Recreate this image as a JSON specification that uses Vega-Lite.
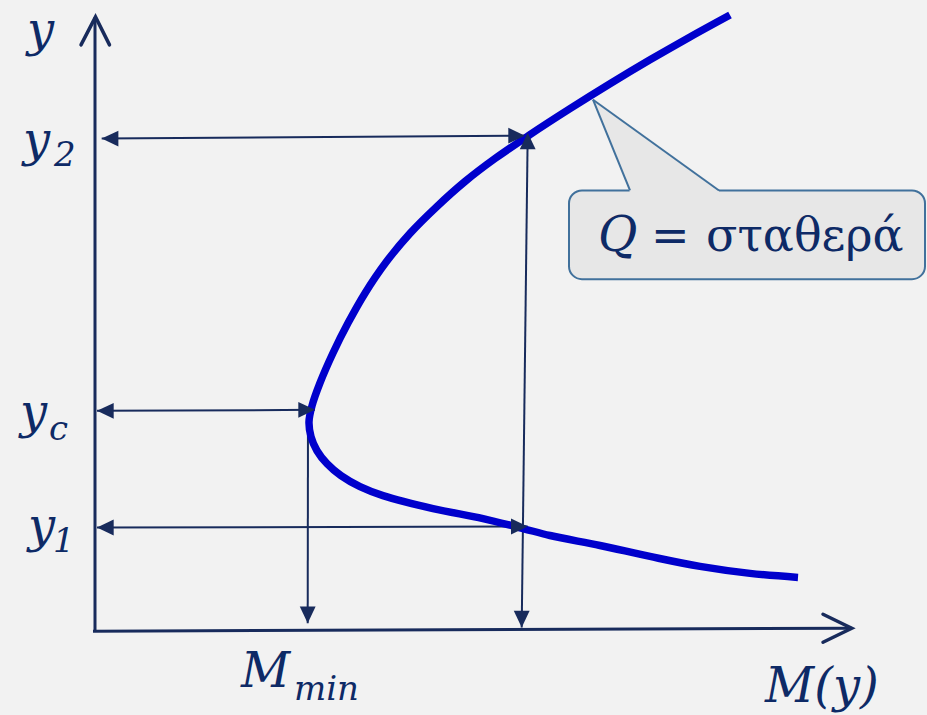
{
  "$schema": "https://vega.github.io/schema/vega-lite/v6.json",
  "width": 927,
  "height": 715,
  "autosize": {"type": "fit", "contains": "padding"},
  "padding": 0,
  "background": "#f2f2f2",
  "config": {"view": {"stroke": null}},
  "datasets": {
    "axes": [
      {"x": 0, "y": 0, "x2": 0, "y2": 61.6},
      {"x": -0.2, "y": 0, "x2": 75.67, "y2": 0.3}
    ],
    "chevrons": [
      {"g": "y", "i": 0, "x": -1.4, "y": 58.8},
      {"g": "y", "i": 1, "x": 0.05, "y": 61.6},
      {"g": "y", "i": 2, "x": 1.45, "y": 58.8},
      {"g": "M", "i": 0, "x": 72.8, "y": 1.7},
      {"g": "M", "i": 1, "x": 75.67, "y": 0.3},
      {"g": "M", "i": 2, "x": 72.8, "y": -1.1}
    ],
    "shafts": [
      {"x": 0.67, "y": 49.4, "x2": 43.0, "y2": 49.7},
      {"x": 0.2, "y": 22.1, "x2": 22.0, "y2": 22.2},
      {"x": 0.2, "y": 10.4, "x2": 43.27, "y2": 10.5},
      {"x": 21.3, "y": 22.1, "x2": 21.27, "y2": 0.8},
      {"x": 43.27, "y": 50.0, "x2": 42.67, "y2": 0.37}
    ],
    "heads": [
      {"x": 0.67, "y": 49.4, "dir": "left"},
      {"x": 43.0, "y": 49.7, "dir": "right"},
      {"x": 0.2, "y": 22.1, "dir": "left"},
      {"x": 22.0, "y": 22.2, "dir": "right"},
      {"x": 0.2, "y": 10.4, "dir": "left"},
      {"x": 43.27, "y": 10.5, "dir": "right"},
      {"x": 21.27, "y": 0.8, "dir": "down"},
      {"x": 43.27, "y": 50.0, "dir": "up"},
      {"x": 42.67, "y": 0.37, "dir": "down"}
    ],
    "curve": [
      {"i": 0, "x": 63.5, "y": 61.8},
      {"i": 1, "x": 59.5, "y": 59.6},
      {"i": 2, "x": 55.5, "y": 57.3},
      {"i": 3, "x": 51.5, "y": 54.9},
      {"i": 4, "x": 47.5, "y": 52.4},
      {"i": 5, "x": 43.5, "y": 49.8},
      {"i": 6, "x": 40.0, "y": 47.4},
      {"i": 7, "x": 37.0, "y": 45.1},
      {"i": 8, "x": 34.2, "y": 42.6},
      {"i": 9, "x": 31.5, "y": 39.9},
      {"i": 10, "x": 29.1, "y": 37.0},
      {"i": 11, "x": 27.0, "y": 33.9},
      {"i": 12, "x": 25.3, "y": 30.9},
      {"i": 13, "x": 23.8, "y": 27.9},
      {"i": 14, "x": 22.5, "y": 24.9},
      {"i": 15, "x": 21.7, "y": 22.6},
      {"i": 16, "x": 21.4, "y": 21.0},
      {"i": 17, "x": 21.6, "y": 19.5},
      {"i": 18, "x": 22.2, "y": 18.1},
      {"i": 19, "x": 23.2, "y": 16.8},
      {"i": 20, "x": 24.6, "y": 15.6},
      {"i": 21, "x": 26.5, "y": 14.5},
      {"i": 22, "x": 28.8, "y": 13.6},
      {"i": 23, "x": 33.8, "y": 12.3},
      {"i": 24, "x": 38.8, "y": 11.3},
      {"i": 25, "x": 42.8, "y": 10.3},
      {"i": 26, "x": 45.5, "y": 9.6},
      {"i": 27, "x": 50.5, "y": 8.6},
      {"i": 28, "x": 55.5, "y": 7.5},
      {"i": 29, "x": 60.5, "y": 6.5},
      {"i": 30, "x": 65.5, "y": 5.8},
      {"i": 31, "x": 70.3, "y": 5.4}
    ],
    "box": [{"x": 47.4, "x2": 83.0, "y": 44.2, "y2": 35.3}],
    "pointer": [
      {"x": 49.8, "y": 53.3, "y2": 53.3},
      {"x": 53.5, "y": 50.63, "y2": 44.0},
      {"x": 62.4, "y": 44.2, "y2": 44.0}
    ],
    "pointerEdges": [
      {"x": 49.8, "y": 53.3, "x2": 53.5, "y2": 44.2},
      {"x": 49.8, "y": 53.3, "x2": 62.4, "y2": 44.2}
    ],
    "labels": [
      {"t": "y", "x": -6.8, "y": 58.7},
      {"t": "y", "x": -7.2, "y": 47.7},
      {"t": "y", "x": -7.5, "y": 20.4},
      {"t": "y", "x": -6.7, "y": 8.9},
      {"t": "M", "x": 14.6, "y": -5.6},
      {"t": "M(y)", "x": 67.0, "y": -7.1},
      {"t": "Q", "x": 50.3, "y": 38.1}
    ],
    "subs": [
      {"t": "2", "x": -4.1, "y": 46.7},
      {"t": "c", "x": -4.6, "y": 19.2},
      {"t": "1", "x": -4.2, "y": 7.9},
      {"t": "min", "x": 19.9, "y": -6.9}
    ],
    "words": [
      {"t": "=", "x": 55.6, "y": 38.1},
      {"t": "σταθερά", "x": 61.1, "y": 38.1}
    ]
  },
  "encoding": {
    "x": {"field": "x", "type": "quantitative", "axis": null, "scale": {"domain": [-9.5, 83.2], "nice": false, "zero": false}},
    "y": {"field": "y", "type": "quantitative", "axis": null, "scale": {"domain": [-8.4, 63.1], "nice": false, "zero": false}}
  },
  "layer": [
    {
      "data": {"name": "box"},
      "mark": {"type": "rect", "fill": "#e7e7e7", "stroke": "#41719c", "strokeWidth": 2, "cornerRadius": 13},
      "encoding": {"x2": {"field": "x2"}, "y2": {"field": "y2"}}
    },
    {
      "data": {"name": "pointer"},
      "mark": {"type": "area", "fill": "#e7e7e7", "opacity": 1, "strokeWidth": 0},
      "encoding": {"y2": {"field": "y2"}}
    },
    {
      "data": {"name": "pointerEdges"},
      "mark": {"type": "rule", "stroke": "#41719c", "strokeWidth": 2},
      "encoding": {"x2": {"field": "x2"}, "y2": {"field": "y2"}}
    },
    {
      "data": {"name": "axes"},
      "mark": {"type": "rule", "stroke": "#182b5c", "strokeWidth": 3},
      "encoding": {"x2": {"field": "x2"}, "y2": {"field": "y2"}}
    },
    {
      "data": {"name": "chevrons"},
      "mark": {"type": "line", "stroke": "#182b5c", "strokeWidth": 3.5, "strokeCap": "round", "strokeJoin": "miter"},
      "encoding": {"detail": {"field": "g"}, "order": {"field": "i", "type": "quantitative"}}
    },
    {
      "data": {"name": "shafts"},
      "mark": {"type": "rule", "stroke": "#182b5c", "strokeWidth": 2},
      "encoding": {"x2": {"field": "x2"}, "y2": {"field": "y2"}}
    },
    {
      "data": {"name": "curve"},
      "mark": {"type": "line", "stroke": "#0000cc", "strokeWidth": 7.5, "strokeCap": "butt", "interpolate": "catmull-rom"},
      "encoding": {"order": {"field": "i", "type": "quantitative"}}
    },
    {
      "data": {"name": "heads"},
      "mark": {"type": "point", "filled": true, "opacity": 1, "size": 279, "color": "#182b5c", "strokeWidth": 0},
      "encoding": {
        "shape": {
          "field": "dir", "type": "nominal", "legend": null,
          "scale": {
            "domain": ["right", "left", "up", "down"],
            "range": ["M0,0L-2,-0.95L-2,0.95Z", "M0,0L2,-0.95L2,0.95Z", "M0,0L-0.95,2L0.95,2Z", "M0,0L-0.95,-2L0.95,-2Z"]
          }
        }
      }
    },
    {
      "data": {"name": "labels"},
      "mark": {"type": "text", "font": "DejaVu Serif", "fontStyle": "italic", "fontSize": 48, "color": "#0e2a66", "align": "left", "baseline": "alphabetic"},
      "encoding": {"text": {"field": "t"}}
    },
    {
      "data": {"name": "subs"},
      "mark": {"type": "text", "font": "DejaVu Serif", "fontStyle": "italic", "fontSize": 34, "color": "#0e2a66", "align": "left", "baseline": "alphabetic"},
      "encoding": {"text": {"field": "t"}}
    },
    {
      "data": {"name": "words"},
      "mark": {"type": "text", "font": "DejaVu Serif", "fontSize": 46, "color": "#0e2a66", "align": "left", "baseline": "alphabetic"},
      "encoding": {"text": {"field": "t"}}
    }
  ]
}
